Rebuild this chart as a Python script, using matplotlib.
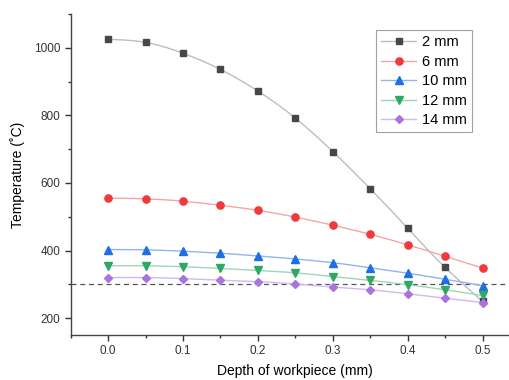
import numpy as np
import matplotlib
matplotlib.use("Agg")
import matplotlib.pyplot as plt
from matplotlib.ticker import MultipleLocator

plt.rcParams['font.family'] = ['Liberation Sans', 'DejaVu Sans']

depth = [0.0, 0.05, 0.1, 0.15, 0.2, 0.25, 0.3, 0.35, 0.4, 0.45, 0.5]
t_2mm = [1025, 1016, 984, 936, 872, 792, 693, 583, 466, 350, 250]
t_6mm = [555, 553, 546, 534, 519, 499, 475, 448, 417, 383, 348]
t_10mm = [403, 402, 398, 392, 384, 375, 364, 349, 333, 315, 296]
t_12mm = [355, 355, 352, 347, 341, 334, 323, 312, 299, 284, 267]
t_14mm = [320, 320, 317, 312, 308, 301, 292, 284, 272, 259, 246]
labels = ['2 mm', '6 mm', '10 mm', '12 mm', '14 mm']
ref_temp = 300

series = [t_2mm, t_6mm, t_10mm, t_12mm, t_14mm]
markers = ['s', 'o', '^', 'v', 'D']
msizes = [4.6, 5.2, 5.8, 5.8, 4.4]
mcolors = ['#474747', '#ee3a3a', '#1e6fe6', '#2fa866', '#a874e0']
lcolors = ['#bdbdbd', '#f5a5a5', '#8fb4ee', '#9fd6b6', '#d2b8f2']


def natural_spline(x, y, n=30):
    x = np.asarray(x, float)
    y = np.asarray(y, float)
    m = len(x)
    h = np.diff(x)
    A = np.zeros((m, m))
    b = np.zeros(m)
    A[0, 0] = A[-1, -1] = 1
    for i in range(1, m - 1):
        A[i, i - 1] = h[i - 1]
        A[i, i] = 2 * (h[i - 1] + h[i])
        A[i, i + 1] = h[i]
        b[i] = 6 * ((y[i + 1] - y[i]) / h[i] - (y[i] - y[i - 1]) / h[i - 1])
    M = np.linalg.solve(A, b)
    xs, ys = [], []
    for i in range(m - 1):
        t = np.linspace(x[i], x[i + 1], n, endpoint=(i == m - 2))
        a = (x[i + 1] - t) / h[i]
        c = (t - x[i]) / h[i]
        s = (a * y[i] + c * y[i + 1]
             + ((a ** 3 - a) * M[i] + (c ** 3 - c) * M[i + 1]) * h[i] ** 2 / 6)
        xs.append(t)
        ys.append(s)
    return np.concatenate(xs), np.concatenate(ys)


fig = plt.figure(figsize=(5.1, 3.8), dpi=100)
ax = fig.add_axes([0.1386, 0.1184, 0.881, 0.8447])

for vals, lab, mk, ms, mc, lc in zip(series, labels, markers, msizes, mcolors, lcolors):
    sx, sy = natural_spline(depth, vals)
    ax.plot(sx, sy, color=lc, lw=1.0, zorder=2)
    ax.plot(depth, vals, linestyle='none', marker=mk, ms=ms, color=mc, zorder=3)
    ax.plot([], [], color=lc, lw=1.0, marker=mk, ms=ms, mfc=mc, mec=mc, label=lab)

ax.axhline(ref_temp, color='#555555', lw=0.9, ls=(0, (4, 3)), zorder=1)

ax.set_xlim(-0.05, 0.55)
ax.set_ylim(150, 1100)
ax.xaxis.set_major_locator(MultipleLocator(0.1))
ax.xaxis.set_minor_locator(MultipleLocator(0.05))
ax.yaxis.set_major_locator(MultipleLocator(200))
ax.yaxis.set_minor_locator(MultipleLocator(100))
ax.set_xticks([0.0, 0.1, 0.2, 0.3, 0.4, 0.5])
ax.set_xticklabels(['0.0', '0.1', '0.2', '0.3', '0.4', '0.5'])
ax.tick_params(which='major', direction='out', length=4, width=1, labelsize=8.5, colors='#333333')
ax.tick_params(which='minor', direction='out', length=2.5, width=1, colors='#333333')
for s in ['top', 'right']:
    ax.spines[s].set_visible(False)
for s in ['left', 'bottom']:
    ax.spines[s].set_color('#444444')
    ax.spines[s].set_linewidth(1.0)

ax.set_xlabel('Depth of workpiece (mm)', fontsize=10, labelpad=5)
ax.set_ylabel('Temperature (˚C)', fontsize=10, labelpad=6)

leg = ax.legend(loc='upper left', bbox_to_anchor=(0.68, 0.95), fontsize=10.5,
                frameon=True, fancybox=False, edgecolor='#888888',
                handlelength=2.4, handletextpad=0.4, labelspacing=0.38,
                borderpad=0.35, borderaxespad=0)
leg.get_frame().set_linewidth(0.8)

fig.savefig('out.png', dpi=100)
